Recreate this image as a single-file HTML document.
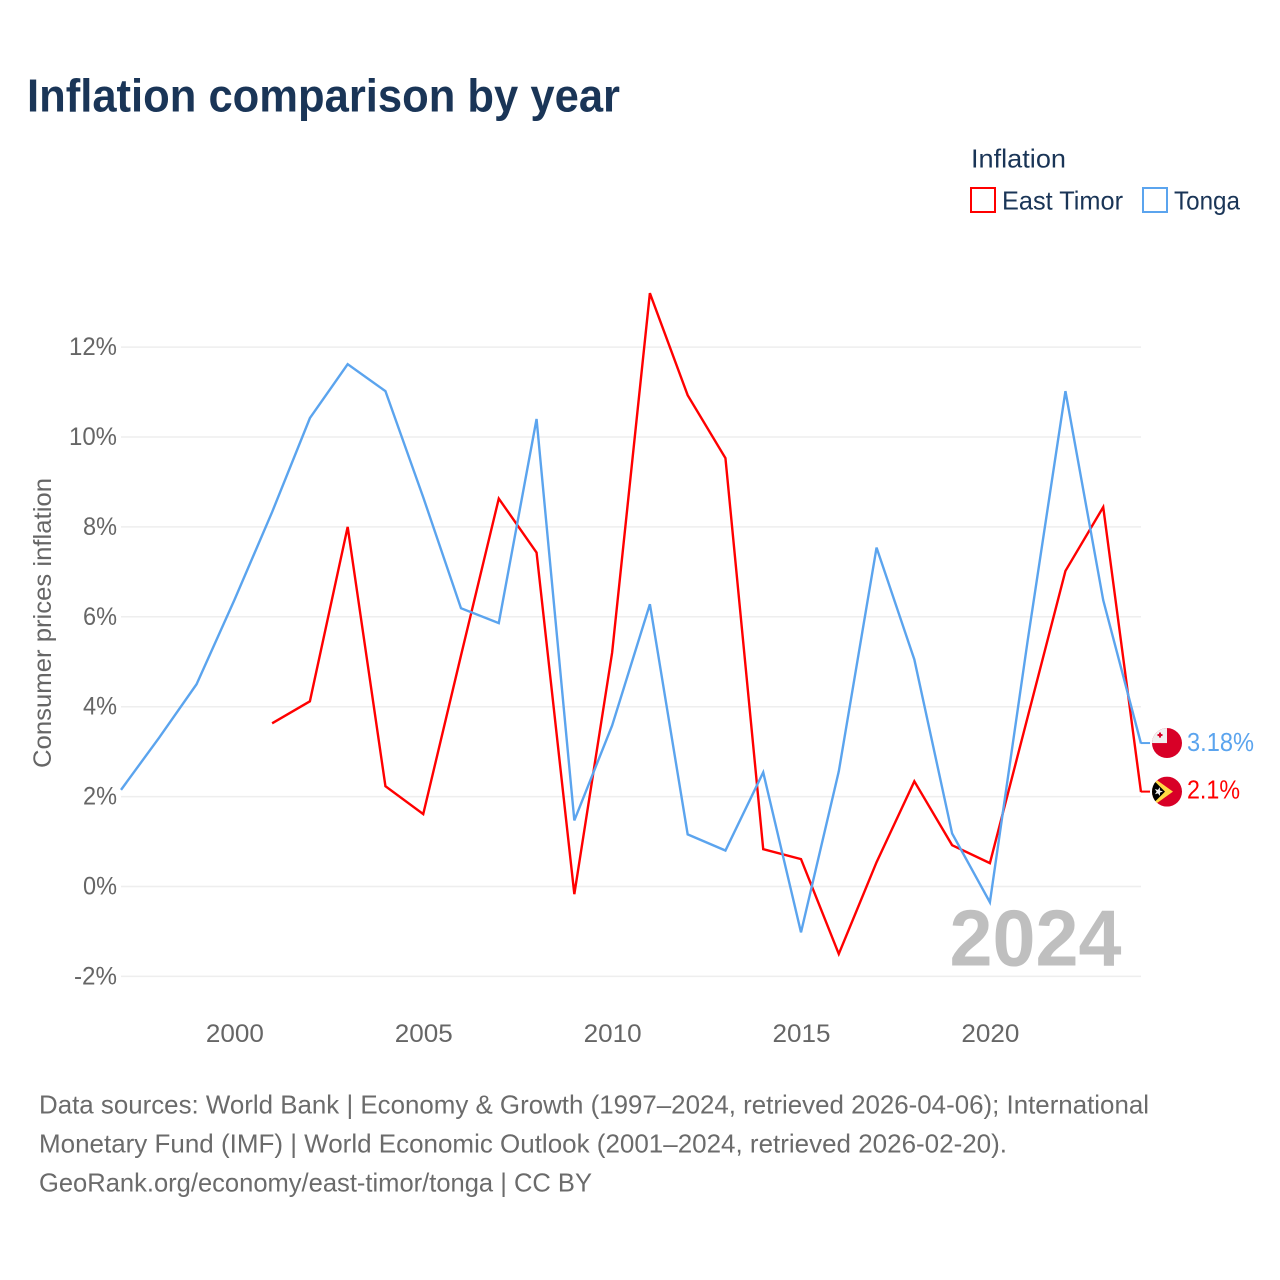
<!DOCTYPE html>
<html lang="en">
<head>
<meta charset="utf-8">
<title>Inflation comparison by year</title>
<style>
html,body{margin:0;padding:0;background:#fff;}
svg{display:block;font-family:"Liberation Sans",sans-serif;}
</style>
</head>
<body>
<svg id="chart" xmlns="http://www.w3.org/2000/svg" width="1280" height="1280" viewBox="0 0 1280 1280">
  <rect x="0" y="0" width="1280" height="1280" fill="#ffffff"/>
  <text x="27" y="111.5" font-size="46" font-weight="700" fill="#1a3557" textLength="593" lengthAdjust="spacingAndGlyphs">Inflation comparison by year</text>
  <g>
    <text x="971" y="167.5" font-size="26" fill="#1a3557" textLength="95" lengthAdjust="spacingAndGlyphs">Inflation</text>
    <rect x="971" y="188" width="24" height="24" fill="none" stroke="#ff0000" stroke-width="2"/>
    <text x="1002" y="209.5" font-size="26" fill="#1a3557" textLength="121" lengthAdjust="spacingAndGlyphs">East Timor</text>
    <rect x="1143" y="188" width="24" height="24" fill="none" stroke="#5ba4ee" stroke-width="2"/>
    <text x="1174" y="209.5" font-size="26" fill="#1a3557" textLength="66" lengthAdjust="spacingAndGlyphs">Tonga</text>
  </g>
  <text transform="translate(51,768) rotate(-90)" font-size="25" fill="#666666" textLength="290" lengthAdjust="spacingAndGlyphs">Consumer prices inflation</text>
  <g id="grid"></g>
  <g id="yticks"></g>
  <g id="xticks"></g>
  <text x="949.5" y="965.5" font-size="80" font-weight="700" fill="#bfbfbf" textLength="172" lengthAdjust="spacingAndGlyphs">2024</text>
  <g id="series"></g>
  <g id="ends"></g>
  <g font-size="26" fill="#6b6b6b">
    <text x="39" y="1113.5" textLength="1110" lengthAdjust="spacingAndGlyphs">Data sources: World Bank | Economy &amp; Growth (1997–2024, retrieved 2026-04-06); International</text>
    <text x="39" y="1152.5" textLength="968" lengthAdjust="spacingAndGlyphs">Monetary Fund (IMF) | World Economic Outlook (2001–2024, retrieved 2026-02-20).</text>
    <text x="39" y="1191.5" textLength="553" lengthAdjust="spacingAndGlyphs">GeoRank.org/economy/east-timor/tonga | CC BY</text>
  </g>
</svg>
<script>
const years = [1997,1998,1999,2000,2001,2002,2003,2004,2005,2006,2007,2008,2009,2010,2011,2012,2013,2014,2015,2016,2017,2018,2019,2020,2021,2022,2023,2024];
const tongaValues = [2.15,3.3,4.5,6.37,8.33,10.42,11.62,11.02,8.66,6.19,5.86,10.4,1.47,3.58,6.28,1.16,0.8,2.54,-1.02,2.56,7.54,5.05,1.18,-0.35,5.47,11.02,6.37,3.18];
const eastTimorValues = [null,null,null,null,3.63,4.12,8.0,2.23,1.61,5.14,8.63,7.43,-0.17,5.2,13.2,10.93,9.53,0.83,0.61,-1.5,0.54,2.34,0.92,0.52,3.77,7.02,8.44,2.1];
const yTickValues = [-2,0,2,4,6,8,10,12];
const yTickLabels = ["-2%","0%","2%","4%","6%","8%","10%","12%"];
const xTickValues = [2000,2005,2010,2015,2020];
const xTickLabels = ["2000","2005","2010","2015","2020"];
const tongaEndLabel = "3.18%";
const eastTimorEndLabel = "2.1%";

const NS = "http://www.w3.org/2000/svg";
const xScale = function (year) { return 121 + (year - 1997) * (1141 - 121) / 27; };
const yScale = function (v) { return 886.5 - v * 44.95; };
function mk(tag, parent) {
  const el = document.createElementNS(NS, tag);
  parent.appendChild(el);
  return el;
}
function setAll(el, attrs) {
  Object.keys(attrs).forEach(function (k) { el.setAttribute(k, attrs[k]); });
}
function linePath(values) {
  let d = "";
  values.forEach(function (v, i) {
    if (v === null) return;
    d += (d ? "L" : "M") + xScale(years[i]).toFixed(2) + " " + yScale(v).toFixed(2);
  });
  return d;
}

const grid = document.getElementById("grid");
const yticks = document.getElementById("yticks");
const xticks = document.getElementById("xticks");
const series = document.getElementById("series");
const ends = document.getElementById("ends");

yTickValues.forEach(function (v, i) {
  const ln = mk("line", grid);
  
  
  setAll(ln, {x1: 121, x2: 1141, y1: yScale(v), y2: yScale(v), stroke: "#eeeeee", "stroke-width": 1.5});
  const t = mk("text", yticks);
  
  
  const lab = yTickLabels[i];
  const w = lab.length === 3 ? (lab[0] === "-" ? 43 : 48) : 34;
  setAll(t, {x: 117 - w, y: yScale(v) + 8, "font-size": 25, fill: "#666666", textLength: w, lengthAdjust: "spacingAndGlyphs"});
  t.textContent = lab;
});

xTickValues.forEach(function (yr, i) {
  const t = mk("text", xticks);
  
  
  setAll(t, {x: xScale(yr) - 28.5, y: 1042, "font-size": 25, fill: "#666666", textLength: 58, lengthAdjust: "spacingAndGlyphs"});
  t.textContent = xTickLabels[i];
});

const lastYearX = xScale(years[years.length - 1]);

const timorLine = mk("path", series);


setAll(timorLine, {d: linePath(eastTimorValues), fill: "none", stroke: "#ff0000", "stroke-width": 2.4, "stroke-linejoin": "miter"});

const tongaLine = mk("path", series);


setAll(tongaLine, {d: linePath(tongaValues), fill: "none", stroke: "#5ba4ee", "stroke-width": 2.4, "stroke-linejoin": "miter"});

const tongaY = yScale(tongaValues[tongaValues.length - 1]);
const timorY = yScale(eastTimorValues[eastTimorValues.length - 1]);

const tongaConn = mk("line", ends);


setAll(tongaConn, {x1: lastYearX, x2: lastYearX + 9, y1: tongaY - 0.5, y2: tongaY - 0.5, stroke: "#5ba4ee", "stroke-width": 2});

const timorConn = mk("line", ends);


setAll(timorConn, {x1: lastYearX, x2: lastYearX + 9, y1: timorY - 0.5, y2: timorY - 0.5, stroke: "#ff0000", "stroke-width": 2});

const flagX = lastYearX + 26;
const tongaFlagY = tongaY - 0.5;
const timorFlagY = timorY - 0.5;

const defs = mk("defs", ends);
const clipA = mk("clipPath", defs);
clipA.setAttribute("id", "clip-tonga");
setAll(mk("circle", clipA), {cx: flagX, cy: tongaFlagY, r: 15});
const clipB = mk("clipPath", defs);
clipB.setAttribute("id", "clip-timor");
setAll(mk("circle", clipB), {cx: flagX, cy: timorFlagY, r: 15});

const tongaFlag = mk("g", ends);


tongaFlag.setAttribute("clip-path", "url(#clip-tonga)");
setAll(mk("rect", tongaFlag), {x: flagX - 15, y: tongaFlagY - 15, width: 30, height: 30, fill: "#d80027"});
setAll(mk("rect", tongaFlag), {x: flagX - 15, y: tongaFlagY - 15, width: 15, height: 15, fill: "#f0f0f0"});
setAll(mk("rect", tongaFlag), {x: flagX - 9.5, y: tongaFlagY - 9, width: 5, height: 2, fill: "#d80027"});
setAll(mk("rect", tongaFlag), {x: flagX - 8, y: tongaFlagY - 10.5, width: 2, height: 5, fill: "#d80027"});

const timorFlag = mk("g", ends);


timorFlag.setAttribute("clip-path", "url(#clip-timor)");
setAll(mk("rect", timorFlag), {x: flagX - 15, y: timorFlagY - 15, width: 30, height: 30, fill: "#d80027"});
setAll(mk("polygon", timorFlag), {points: [flagX - 15, timorFlagY - 15, flagX + 6, timorFlagY, flagX - 15, timorFlagY + 15].join(","), fill: "#ffda44"});
setAll(mk("polygon", timorFlag), {points: [flagX - 15, timorFlagY - 13, flagX - 2, timorFlagY, flagX - 15, timorFlagY + 13].join(","), fill: "#000000"});
const starPts = [];
for (let k = 0; k < 10; k++) {
  const r = k % 2 === 0 ? 4.5 : 1.8;
  const a = -Math.PI / 2 + k * Math.PI / 5 + 0.3;
  starPts.push((flagX - 8.5 + r * Math.cos(a)).toFixed(2) + "," + (timorFlagY + r * Math.sin(a)).toFixed(2));
}
setAll(mk("polygon", timorFlag), {points: starPts.join(" "), fill: "#f0f0f0"});

const tongaText = mk("text", ends);


setAll(tongaText, {x: flagX + 20, y: tongaY + 7.5, "font-size": 26, fill: "#5ba4ee", textLength: 67, lengthAdjust: "spacingAndGlyphs"});
tongaText.textContent = tongaEndLabel;

const timorText = mk("text", ends);


setAll(timorText, {x: flagX + 20, y: timorY + 6.5, "font-size": 26, fill: "#ff0000", textLength: 53, lengthAdjust: "spacingAndGlyphs"});
timorText.textContent = eastTimorEndLabel;
</script>
</body>
</html>
